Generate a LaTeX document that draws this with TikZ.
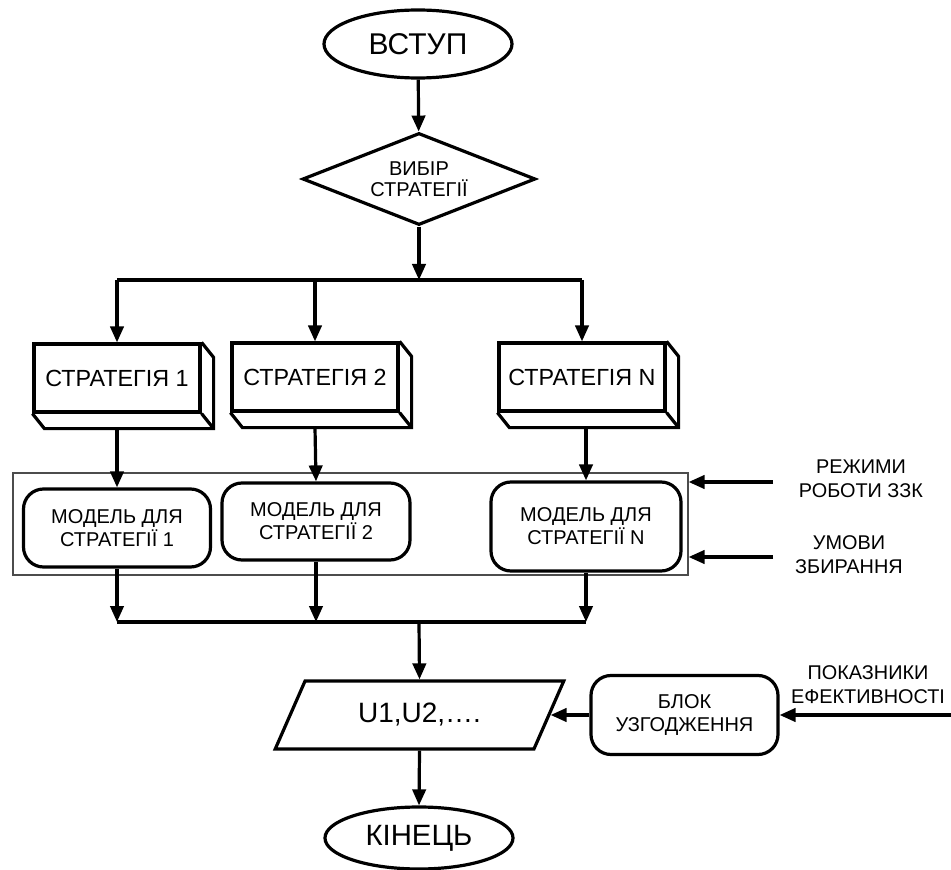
\documentclass[tikz,border=0pt]{standalone}
\usepackage{fontspec}
\setmainfont{Liberation Sans}
\usetikzlibrary{shapes.geometric,arrows.meta,calc}
\begin{document}
\begin{tikzpicture}[x=0.75pt,y=-0.75pt,
  thickline/.style={line width=2.4pt},
  arr/.style={-{Triangle[length=12pt,width=10pt]}, line width=2.4pt},
  term/.style={ellipse, draw, line width=2.4pt, inner sep=0pt,
    minimum width=141pt, font=\fontsize{22.5}{26}\selectfont},
  dec/.style={diamond, draw, line width=2.4pt, inner sep=0pt, aspect=2.53,
    minimum width=174.75pt, minimum height=69pt, align=center,
    font=\fontsize{15}{16}\selectfont},
  sbox/.style={rectangle, draw, line width=2.4pt, inner sep=0pt,
    minimum width=124.5pt, minimum height=51pt, font=\fontsize{17.5}{20}\selectfont},
  mbox/.style={rectangle, rounded corners=15pt, draw, line width=2.4pt, inner sep=0pt,
    align=center, font=\fontsize{15}{17.25}\selectfont},
  grp/.style={rectangle, draw=black!70, line width=0.9pt, inner sep=0pt,
    minimum width=506.25pt, minimum height=76.5pt},
  para/.style={trapezium, trapezium left angle=55.3, trapezium right angle=124.7,
    trapezium stretches=true, draw, line width=2.4pt, inner sep=0pt,
    minimum width=216.75pt, minimum height=51pt, font=\fontsize{21}{25}\selectfont},
  lbl/.style={align=center, inner sep=0pt, font=\fontsize{14.9}{18}\selectfont}
]
\useasboundingbox (0,0) rectangle (951,870);

% nodes
\node[term, minimum height=51pt] (start) at (418,44) {ВСТУП};
\node[dec] (D) at (419,179) {ВИБІР\\СТРАТЕГІЇ};

\node[sbox] (s1) at (117,378) {СТРАТЕГІЯ 1};
\node[sbox] (s2) at (315,377) {СТРАТЕГІЯ 2};
\node[sbox] (sN) at (582,377) {СТРАТЕГІЯ N};

\foreach \s in {s1,s2,sN}{
  \draw[thickline, line join=miter] (\s.north east) -- ++(12,15)
     -- ($(\s.south east)+(12,15)$) -- ($(\s.south west)+(12,15)$) -- (\s.south west);
  \draw[thickline] (\s.south east) -- ++(12,15);
}

\node[grp] (G) at (350.5,524) {};
\node[mbox, minimum width=140.25pt, minimum height=58.5pt] (m1) at (117,528) {МОДЕЛЬ ДЛЯ\\СТРАТЕГІЇ 1};
\node[mbox, minimum width=141pt, minimum height=57.75pt] (m2) at (316,521.5) {МОДЕЛЬ ДЛЯ\\СТРАТЕГІЇ 2};
\node[mbox, minimum width=142.5pt, minimum height=66.75pt] (mN) at (586,526.5) {МОДЕЛЬ ДЛЯ\\СТРАТЕГІЇ N};

\node[para] (U) at (419.5,715) {U1,U2,….};
\node[mbox, minimum width=140.25pt, minimum height=59.25pt] (B) at (684.5,715) {БЛОК\\УЗГОДЖЕННЯ};
\node[term, minimum height=46.5pt, font=\fontsize{22}{26}\selectfont] (end) at (419,838) {КІНЕЦЬ};

\node[lbl] (rez) at (861,479) {РЕЖИМИ\\РОБОТИ ЗЗК};
\node[lbl] (umov) at (849,555) {УМОВИ\\ЗБИРАННЯ};
\node[lbl] (pok) at (868,685) {ПОКАЗНИКИ\\ЕФЕКТИВНОСТІ};

% coordinates
\coordinate (tb) at (419,280);
\coordinate (bb) at (419,622);
\coordinate (r1) at (773,482);
\coordinate (r2) at (773,557);
\coordinate (pk) at (951,715);

% connectors
\draw[arr] (start) -- (D);
\draw[arr] (D.south) -- (tb);
\draw[thickline] (s1.north |- tb) -- (sN.north |- tb);
\foreach \s in {s1,s2,sN}{
  \draw[arr] (\s.north |- tb) -- (\s.north);
}
\draw[arr] ($(s1.south)+(0,15)$) -- (m1.north);
\draw[arr] ($(s2.south)+(0,15)$) -- (m2.north);
\draw[arr] ($(sN.south)+(0,15)$) -| (mN.north);

\foreach \m in {m1,m2,mN}{
  \draw[arr] (\m.south) -- (\m.south |- bb);
}
\draw[thickline] (m1.south |- bb) -- (mN.south |- bb);
\draw[arr] (bb) -- (U.north);
\draw[arr] (U.south) -- (end.north);

\draw[arr] (r1) -- (r1 -| G.east);
\draw[arr] (r2) -- (r2 -| G.east);
\draw[arr] (pk) -- (B.east);
\draw[arr] (B.west) -- (U.right side);
\end{tikzpicture}
\end{document}
